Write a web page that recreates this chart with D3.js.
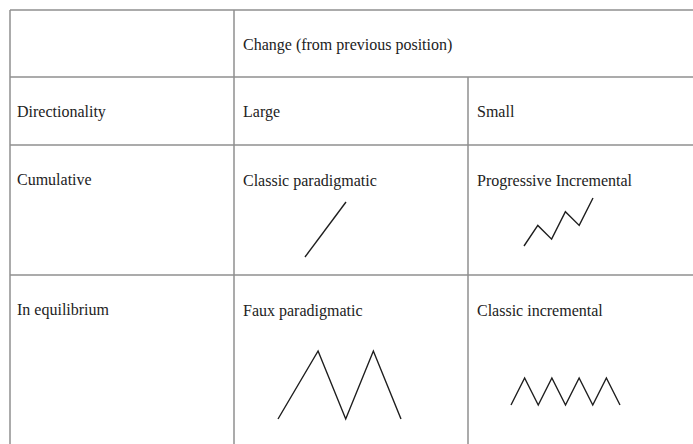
<!DOCTYPE html>
<html>
<head>
<meta charset="utf-8">
<script src="https://cdn.jsdelivr.net/npm/d3@7"></script>
<style>
  html, body { margin: 0; padding: 0; background: #fff; }
  svg text { font-family: "Liberation Serif", "Times New Roman", serif; font-size: 16px; fill: #222; }
</style>
</head>
<body>
<div id="chart"></div>
<script>
// table text
const headerTitle = 'Change (from previous position)';
const rowLabels = ['', 'Directionality', 'Cumulative', 'In equilibrium'];
const colLabels = ['Large', 'Small'];
const cellLabels = [
  ['Classic paradigmatic', 'Progressive Incremental'],
  ['Faux paradigmatic', 'Classic incremental']
];

// little sketches (x step, level)
const classicParadigmaticX = [0, 1];
const classicParadigmaticY = [0, 1];
const progressiveX = [0, 1, 2, 3, 4, 5];
const progressiveY = [0, 1.5, 0.5, 2.5, 1.5, 3.5];
const fauxX = [0, 1.45, 2.45, 3.45, 4.45];
const fauxY = [0, 1, 0, 1, 0];
const classicIncX = [0, 1, 2, 3, 4, 5, 6, 7, 8];
const classicIncY = [0, 1, 0, 1, 0, 1, 0, 1, 0];

const w = 693;
const h = 444;
const colEdges = [10, 234, 468, w];
const rowEdges = [10, 77, 145, 275, h];
const gridColor = '#8f8f8f';

const svg = d3.select('#chart')
              .append('svg')
              .attr('width', w)
              .attr('height', h);

// grid lines
const grid = svg.append('g')
                .attr('stroke', gridColor)
                .attr('stroke-width', 1.5);

rowEdges.slice(0, 4).forEach(y => {
  grid.append('line').attr('x1', colEdges[0]).attr('x2', w).attr('y1', y).attr('y2', y);
});
grid.append('line').attr('x1', colEdges[0]).attr('x2', colEdges[0]).attr('y1', rowEdges[0]).attr('y2', h);
grid.append('line').attr('x1', colEdges[1]).attr('x2', colEdges[1]).attr('y1', rowEdges[0]).attr('y2', h);
grid.append('line').attr('x1', colEdges[2]).attr('x2', colEdges[2]).attr('y1', rowEdges[1]).attr('y2', h);

// text
const addText = (txt, x, y) => {
  svg.append('text').attr('x', x).attr('y', y).text(txt);
};

addText(headerTitle, colEdges[1] + 9, rowEdges[0] + 40);
rowLabels.forEach((d, i) => {
  if (d) addText(d, colEdges[0] + 7, rowEdges[i] + 40);
});
colLabels.forEach((d, i) => addText(d, colEdges[i + 1] + 9, rowEdges[1] + 40));
cellLabels.forEach((row, r) => {
  row.forEach((d, c) => addText(d, colEdges[c + 1] + 9, rowEdges[r + 2] + 41));
});

// sketches
const drawSketch = (xs, ys, xRange, yRange) => {
  const xScale = d3.scaleLinear().domain(d3.extent(xs)).range(xRange);
  const yScale = d3.scaleLinear().domain(d3.extent(ys)).range(yRange);
  const line = d3.line()
                 .x(d => xScale(d[0]))
                 .y(d => yScale(d[1]));
  svg.append('path')
     .datum(xs.map((x, i) => [x, ys[i]]))
     .attr('d', line)
     .attr('fill', 'none')
     .attr('stroke', '#1e1e1e')
     .attr('stroke-width', 1.4);
};

drawSketch(classicParadigmaticX, classicParadigmaticY, [305, 346], [257, 202]);
drawSketch(progressiveX, progressiveY, [524, 593], [246, 198]);
drawSketch(fauxX, fauxY, [278, 401], [419, 351]);
drawSketch(classicIncX, classicIncY, [511, 620], [405, 378]);
</script>
</body>
</html>
